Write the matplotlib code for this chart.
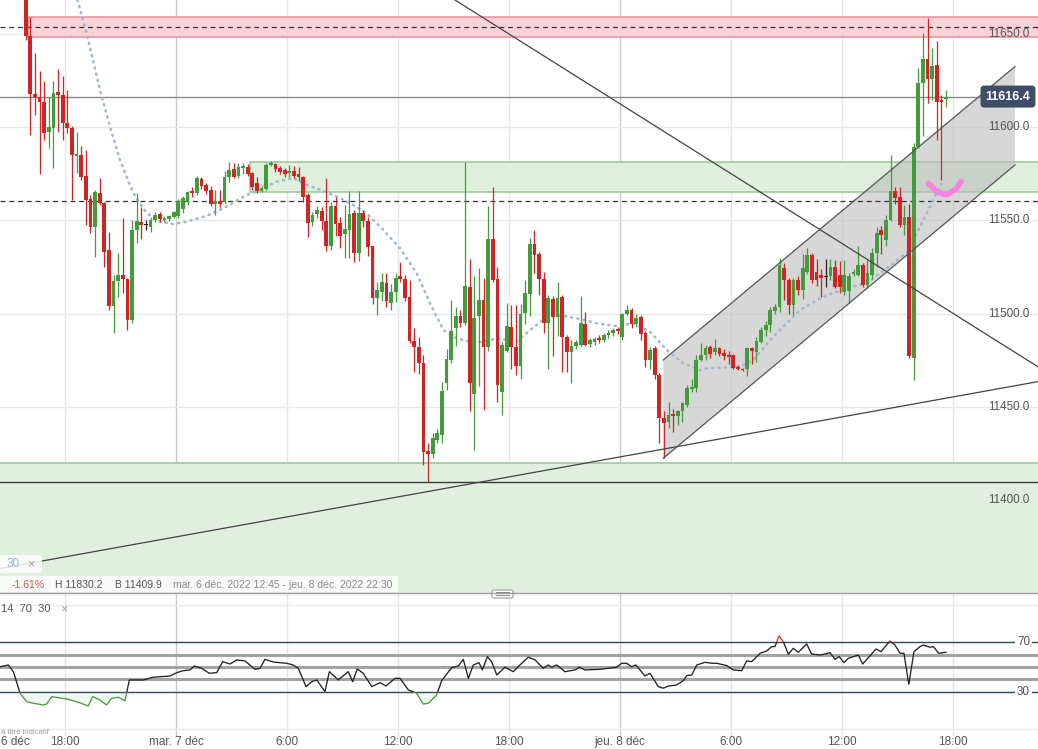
import matplotlib
matplotlib.use("Agg")
import matplotlib.pyplot as plt
import numpy as np
from matplotlib.patches import Rectangle, FancyBboxPatch, Polygon
from matplotlib.transforms import blended_transform_factory

plt.rcParams['font.family'] = ['Liberation Sans', 'DejaVu Sans']

# ---------------- data ----------------
# 15-minute candles, first candle opens 15:45 on 6 Dec (hours relative to 7 Dec 00:00)
first_open_hour = -8.25
candle_hours = 0.25

opens = [11700, 11649, 11618, 11616, 11613.5, 11597.5, 11599.5, 11619, 11617.5, 11602,
         11599.5, 11584.5, 11585, 11574, 11561.5, 11546.5, 11564.5, 11559.5, 11534, 11504,
         11517.5, 11520.5, 11518.5, 11496.5, 11545, 11549, 11547.5, 11546.5, 11550, 11553.5,
         11550, 11550.5, 11552, 11552.5, 11556, 11560, 11565.5, 11564.5, 11572, 11569,
         11566.5, 11559, 11560.5, 11560, 11573.5, 11577.5, 11574, 11578, 11578.5, 11575.5,
         11570, 11566, 11567, 11579.5, 11580, 11578, 11577, 11575.5, 11576.5, 11575,
         11573.5, 11563.5, 11549, 11553.5, 11555, 11549.5, 11536, 11557.5, 11548.5, 11542.5,
         11545, 11554, 11532.5, 11554, 11549.5, 11536, 11508.5, 11511.5, 11516.5, 11505.5,
         11511.5, 11520, 11518.5, 11509, 11485.5, 11482, 11473.5, 11426.5, 11424.5, 11432,
         11435, 11463, 11475, 11492, 11498.5, 11495, 11514.5, 11457, 11498.5, 11507.5,
         11482, 11540, 11518.5, 11458, 11480, 11493, 11482, 11472, 11500.5, 11510.5,
         11537.5, 11532, 11518.5, 11495, 11508, 11498, 11509, 11487.5, 11479.5, 11482.5,
         11483, 11494.5, 11483.5, 11484.5, 11487, 11486, 11488.5, 11489.5, 11491.5, 11487.5,
         11500, 11502, 11494.5, 11498, 11489.5, 11475, 11481.5, 11467, 11444, 11442,
         11446, 11445, 11447.5, 11451, 11459.5, 11460, 11475, 11478, 11482, 11479.5,
         11481.5, 11479, 11478, 11478, 11471.5, 11470.5, 11470, 11481.5, 11479.5, 11485,
         11491, 11494, 11501.5, 11503.5, 11524.5, 11518, 11504.5, 11518, 11512.5, 11522.5,
         11531.5, 11522.5, 11520.5, 11519.5, 11520, 11525, 11520.5, 11511.5, 11512, 11521,
         11520.5, 11526, 11515.5, 11520.5, 11532.5, 11545, 11539.5, 11550, 11565.5, 11562.5,
         11547.5, 11552, 11476, 11589.5, 11623.5, 11636.5, 11626, 11633.5, 11614.5, 11615]
highs = [11710, 11659, 11640, 11630, 11625, 11616, 11625, 11631, 11627.5, 11620,
         11600.5, 11597.5, 11590, 11588, 11563.5, 11566.5, 11572.5, 11560, 11544, 11520.5,
         11532.5, 11551, 11519, 11550, 11564.5, 11557, 11550, 11552, 11554.5, 11554.5,
         11552.5, 11553, 11555, 11561.5, 11563, 11565.5, 11568, 11574, 11573.5, 11570,
         11568.5, 11566.5, 11566.5, 11576.5, 11581.5, 11580.5, 11581, 11580.5, 11580, 11576,
         11573, 11569, 11580.5, 11582, 11581, 11579, 11578, 11579.5, 11579, 11578.5,
         11574, 11564.5, 11554.5, 11557.5, 11557, 11572.5, 11560, 11562.5, 11552, 11558,
         11566, 11555.5, 11565.5, 11555.5, 11552, 11536.5, 11517, 11521.5, 11522, 11516,
         11522, 11527.5, 11520.5, 11518, 11492, 11487.5, 11478, 11430.5, 11436, 11438,
         11463.5, 11481, 11507.5, 11503.5, 11502, 11581.5, 11529.5, 11520, 11524.5, 11519,
         11557.5, 11568, 11525, 11484.5, 11505.5, 11504.5, 11504.5, 11505, 11518, 11540.5,
         11545, 11533, 11522.5, 11510, 11509.5, 11517, 11510, 11488.5, 11486, 11486,
         11509.5, 11501, 11487, 11487.5, 11488.5, 11489.5, 11491, 11492, 11493, 11500.5,
         11504.5, 11503, 11500, 11499, 11490.5, 11482, 11482.5, 11468, 11447.5, 11452.5,
         11449, 11448.5, 11452.5, 11461.5, 11465, 11478, 11484, 11483, 11483, 11486.5,
         11482, 11481, 11480, 11478.5, 11472.5, 11471, 11482, 11482, 11487.5, 11493,
         11496, 11503.5, 11505, 11530, 11527, 11519, 11519, 11520, 11532, 11535,
         11532.5, 11529, 11524, 11529.5, 11529.5, 11528.5, 11528, 11528.5, 11522, 11524,
         11536, 11527, 11528.5, 11535, 11546.5, 11547, 11553, 11585, 11568, 11568,
         11558, 11559, 11591.5, 11631.5, 11650.5, 11658.5, 11642.5, 11646, 11617, 11620]
lows = [11647, 11596, 11606.5, 11575, 11593, 11589, 11578, 11597.5, 11593, 11597,
        11561, 11575.5, 11571.5, 11547.5, 11543, 11530.5, 11558, 11525, 11502, 11489.5,
        11509, 11511, 11491, 11495, 11538, 11540, 11545, 11544, 11549, 11549,
        11549, 11549.5, 11551, 11551.5, 11554, 11558, 11562.5, 11563.5, 11567, 11564,
        11557.5, 11553, 11557, 11559, 11570.5, 11572.5, 11572.5, 11575, 11574, 11566.5,
        11564.5, 11565, 11566.5, 11579, 11576, 11575, 11573.5, 11573.5, 11572.5, 11571,
        11560, 11541, 11547, 11551.5, 11545, 11533.5, 11534, 11541.5, 11535, 11530,
        11530, 11527.5, 11528, 11546.5, 11531, 11505, 11499, 11507, 11503.5, 11502,
        11506, 11517, 11506.5, 11484, 11468.5, 11467.5, 11419, 11409.9, 11422.5, 11430.5,
        11430.5, 11459, 11473.5, 11482.5, 11493, 11494, 11447.5, 11427, 11461, 11448.5,
        11480, 11517, 11452.5, 11445.5, 11479.5, 11470.5, 11467, 11465, 11494.5, 11498.5,
        11521.5, 11510, 11489.5, 11470.5, 11477, 11488, 11468.5, 11468.5, 11462.5, 11481,
        11482.5, 11482.5, 11482, 11483, 11484, 11485, 11487, 11488, 11489, 11486,
        11499, 11492, 11493, 11486, 11471.5, 11470, 11465, 11430.5, 11422.5, 11438.5,
        11436.5, 11440, 11442, 11450, 11458, 11458, 11474.5, 11475, 11476, 11478,
        11477, 11475, 11473, 11470, 11469.5, 11469, 11466.5, 11473, 11474, 11484,
        11488, 11490, 11500, 11501, 11507.5, 11500, 11499, 11510, 11508, 11521,
        11516.5, 11515, 11509, 11514, 11518, 11513.5, 11511, 11510, 11505.5, 11520,
        11520, 11514, 11513.5, 11518.5, 11525, 11532, 11536, 11549.5, 11559, 11546.5,
        11542, 11476, 11464.5, 11589, 11595, 11613, 11614.5, 11593, 11571.5, 11611]
closes = [11649, 11618, 11616, 11613.5, 11597, 11600, 11618.5, 11617, 11602, 11599.5,
          11585, 11585.5, 11573, 11561, 11546.5, 11565, 11559.5, 11533, 11504, 11517.5,
          11520.5, 11518.5, 11496.5, 11545, 11549.5, 11547.5, 11547.5, 11550, 11553, 11550.5,
          11551.5, 11552.5, 11554.5, 11560.5, 11562, 11565, 11564.5, 11572.5, 11568.5, 11566,
          11559, 11560.5, 11559, 11573.5, 11577, 11573.5, 11578.5, 11579, 11575, 11568,
          11565.5, 11567.5, 11579.5, 11580.5, 11577.5, 11576, 11575, 11576.5, 11574, 11573,
          11562.5, 11548.5, 11553, 11555.5, 11549.5, 11536, 11557.5, 11548, 11541.5, 11545.5,
          11553.5, 11532.5, 11554, 11549.5, 11535.5, 11508.5, 11512.5, 11517, 11506.5, 11511.5,
          11519, 11518.5, 11508.5, 11485.5, 11482, 11473.5, 11426, 11424.5, 11433, 11436,
          11458.5, 11475.5, 11490.5, 11498.5, 11495, 11515, 11462.5, 11497.5, 11507.5, 11482,
          11540, 11518, 11461.5, 11483, 11493.5, 11482, 11472, 11500, 11511, 11537.5,
          11531.5, 11518.5, 11495, 11508.5, 11498, 11508.5, 11487.5, 11479.5, 11482.5, 11484.5,
          11495, 11483, 11486, 11486.5, 11486, 11488.5, 11489.5, 11491, 11490.5, 11500,
          11502, 11494.5, 11497.5, 11489, 11475, 11480.5, 11467, 11444, 11441.5, 11445.5,
          11445, 11447.5, 11452, 11460, 11460.5, 11475, 11478, 11481.5, 11478.5, 11481.5,
          11478.5, 11477, 11476.5, 11471, 11470, 11469.5, 11481.5, 11480, 11485.5, 11491,
          11494, 11502, 11503.5, 11526, 11518, 11504.5, 11518, 11512.5, 11524.5, 11531.5,
          11518, 11518, 11519, 11519.5, 11525, 11514.5, 11514.5, 11520.5, 11520, 11522.5,
          11526, 11515.5, 11521.5, 11532.5, 11543, 11542, 11550, 11565.5, 11562, 11547.5,
          11552, 11477, 11589.5, 11623.5, 11636.5, 11626, 11633, 11613.5, 11613.5, 11616.4]

# 30-period moving average (dotted), read at sample points: hours, price
ma_hours = [-5.33, -4.83, -4.11, -3.57, -3.03, -2.31, -1.58, -0.86, -0.15, 0.58, 1.66, 2.74,
            3.82, 4.54, 5.44, 6.34, 7.06, 7.96, 8.69, 9.41, 10.31, 11.21, 12.11, 13.01,
            13.73, 14.45, 15.17, 16.07, 16.61, 17.34, 18.42, 19.14, 19.85, 20.58, 21.66,
            22.74, 23.82, 24.72, 25.62, 26.52, 27.42, 28.32, 28.69, 30.49, 31.2, 32.29,
            33.73, 34.99, 36.25, 37.34, 38.77, 39.5, 40.04, 40.39, 40.76, 41.12, 41.46]
ma_values = [11668.2, 11650.4, 11620.0, 11600.3, 11582.4, 11564.5, 11553.8, 11549.3, 11548.0,
             11549.3, 11552.4, 11557.4, 11563.6, 11566.3, 11570.8, 11572.6, 11569.0, 11565.9,
             11562.7, 11559.2, 11553.8, 11544.8, 11535.0, 11521.6, 11505.5, 11491.2, 11486.7,
             11484.4, 11484.9, 11486.7, 11484.9, 11491.2, 11496.6, 11499.3, 11497.5, 11494.8,
             11493.3, 11494.8, 11490.3, 11480.5, 11473.3, 11469.7, 11470.6, 11471.5, 11475.1,
             11487.6, 11501.9, 11509.1, 11513.6, 11516.3, 11527.0, 11532.4, 11543.1, 11550.2,
             11557.4, 11564.5, 11571.1]

# RSI(14) read at sample points
rsi_hours = [-9.51, -9.06, -8.79, -8.43, -8.07, -7.71, -7.17, -6.99, -6.72, -6.36, -5.91, -5.37,
             -4.74, -4.50, -4.11, -3.75, -3.48, -3.12, -2.76, -2.52, -1.77, -1.23, -0.32, 0.04,
             0.39, 0.76, 0.99, 1.39, 1.80, 2.20, 2.52, 2.92, 3.28, 3.73, 4.27, 4.54, 4.81, 5.26,
             5.98, 6.34, 6.61, 7.03, 7.34, 7.61, 8.05, 8.29, 8.77, 9.31, 9.55, 9.80, 10.12,
             10.58, 11.03, 11.35, 11.84, 12.11, 12.56, 13.01, 13.37, 13.64, 14.09, 14.36, 14.90,
             15.26, 15.53, 15.80, 16.07, 16.38, 16.56, 16.83, 17.06, 17.34, 17.78, 18.23, 18.59,
             19.04, 19.41, 19.85, 20.12, 20.31, 20.58, 21.03, 21.57, 21.80, 22.11, 22.92, 23.82,
             24.09, 24.36, 24.63, 24.86, 25.35, 25.62, 26.07, 26.34, 26.61, 27.06, 27.42, 27.61,
             27.88, 28.15, 28.59, 28.96, 29.23, 29.77, 30.12, 30.58, 30.85, 31.12, 31.57, 31.93,
             32.20, 32.38, 32.59, 32.83, 33.10, 33.37, 33.64, 34.09, 34.36, 34.81, 35.08, 35.35,
             35.62, 35.85, 36.11, 36.34, 36.88, 37.12, 37.51, 37.84, 38.11, 38.59, 38.86, 39.14,
             39.35, 39.61, 39.89, 40.22, 40.40, 40.76, 40.94, 41.23, 41.62]
rsi_values = [50.2, 51.6, 46.2, 28.7, 21.9, 20.6, 19.2, 20.0, 26.0, 25.1, 24.1, 21.9,
              18.4, 26.0, 23.3, 19.2, 24.6, 25.5, 22.7, 39.5, 39.5, 41.7, 42.7, 45.4,
              47.0, 47.6, 50.8, 48.9, 44.9, 45.4, 54.3, 52.4, 55.7, 54.9, 48.1, 48.9, 56.2, 54.0,
              53.0, 51.6, 48.9, 34.1, 38.1, 39.5, 30.0, 46.2, 39.5, 46.2, 38.1, 48.4, 44.9,
              34.1, 37.3, 34.6, 40.8, 40.8, 31.4, 28.7, 20.0, 20.6, 27.3, 38.9, 49.4,
              50.8, 56.2, 40.8, 51.6, 53.5, 47.6, 58.4, 54.3, 43.5, 49.8, 46.2, 51.6,
              57.9, 55.7, 48.9, 51.6, 49.8, 51.6, 46.2, 47.6, 49.8, 47.6, 48.1, 49.8,
              53.0, 53.0, 50.2, 51.6, 42.7, 44.9, 34.1, 32.8, 34.6, 35.4, 38.9, 43.0,
              43.5, 51.6, 53.8, 53.0, 53.0, 51.1, 47.6, 47.0, 54.9, 54.3, 61.1, 63.0,
              66.5, 66.5, 75.1, 70.5, 60.3, 65.1, 61.9, 68.6, 60.5, 59.7, 60.5, 61.6,
              56.2, 58.4, 53.5, 57.0, 59.7, 52.4, 58.9, 64.6, 62.4, 71.1, 67.8, 61.1,
              61.1, 36.0, 62.4, 66.5, 67.8, 66.0, 66.5, 61.1, 61.9]

# drawings: (hours, price) endpoints
line_down = ([15.08, 46.6], [11668.2, 11471.4])
line_up = ([-9.51, 46.6], [11363.2, 11463.5])
channel_hours = [26.34, 45.35]
channel_upper = [11475.1, 11632.5]
channel_lower = [11422.4, 11579.7]
marker_hours = [40.66, 41.12, 41.66, 42.2, 42.43]
marker_prices = [11569.9, 11565.4, 11563.6, 11567.2, 11570.8]

red_zone = (-7.98, 11648.4, 11659.1)
green_zone = (4.0, 11565.4, 11581.5)
low_zone = (-12.0, 11300.0, 11419.8)
dashed_levels = [11653.6, 11560.4]
last_price = 11616.4
low_price = 11409.9

price_ticks = [11650, 11600, 11550, 11500, 11450, 11400]
time_ticks = [-6, 0, 6, 12, 18, 24, 30, 36, 42]
time_labels = ["18:00", "mar. 7 déc", "6:00", "12:00", "18:00", "jeu. 8 déc", "6:00", "12:00", "18:00"]
day_ticks = [0, 24]

# ---------------- figure ----------------
W, H = 1038, 749
fig = plt.figure(figsize=(W / 100, H / 100), dpi=100)
fig.patch.set_facecolor('white')
ax = fig.add_axes([0, 1 - 593 / H, 1, 593 / H])
ax2 = fig.add_axes([0, 1 - 737 / H, 1, (737 - 593) / H])
xlim = (-9.514, 46.595)
for a in (ax, ax2):
    a.set_xlim(*xlim)
    for s in a.spines.values():
        s.set_visible(False)
    a.set_xticks([])
    a.set_yticks([])
    a.set_facecolor('white')
ax.set_ylim(11350.1, 11668.2)
ax2.set_ylim(-6.7, 109.9)

# grids
for t in time_ticks:
    col = '#c9c9c9' if t in day_ticks else '#e6e6e6'
    ax.axvline(t, color=col, lw=1, zorder=0)
    ax2.axvline(t, color=col, lw=1, zorder=0)
for p in price_ticks:
    ax.axhline(p, color='#e8e8e8', lw=1, zorder=0)

# zones
for (t0, lo, hi), fc, ec in [(red_zone, '#fad3d7', '#e78e96'),
                              (green_zone, '#dff0dc', '#95c990'),
                              (low_zone, '#dff0dc', '#95c990')]:
    ax.add_patch(Rectangle((t0, lo), 80, hi - lo, facecolor=fc, edgecolor=ec, lw=1.1, zorder=1))

# channel
poly = Polygon([[channel_hours[0], channel_upper[0]], [channel_hours[1], channel_upper[1]],
                [channel_hours[1], channel_lower[1]], [channel_hours[0], channel_lower[0]]],
               closed=True, facecolor='#bdbdbd', alpha=0.6, edgecolor='none', zorder=2)
ax.add_patch(poly)

# horizontal levels
for p in dashed_levels:
    ax.axhline(p, color='#333333', lw=0.9, ls=(0, (4, 3)), zorder=3)
ax.plot([xlim[0], 44.55], [last_price, last_price], color='#8a8a8a', lw=1, zorder=3)
ax.axhline(low_price, color='#3a3a3a', lw=1, zorder=3)

# moving average
ax.plot(ma_hours, ma_values, color='#a3b8cd', lw=1.9, ls=(0, (0.4, 2.0)),
        dash_capstyle='round', zorder=4)

# candles
op = np.array(opens); hi = np.array(highs); lo = np.array(lows); cl = np.array(closes)
tc = first_open_hour + candle_hours * np.arange(len(op)) + candle_hours / 2
cols = np.where(cl > op, '#449b3c', np.where(cl < op, '#cf2525', '#222222'))
ax.vlines(tc, lo, hi, colors=cols, lw=0.9, zorder=5)
body_lo = np.minimum(op, cl)
body_h = np.maximum(np.abs(cl - op), 0.6)
ax.bar(tc, body_h, bottom=body_lo, width=0.2, color=cols, lw=0, zorder=5)

# trend lines & channel edges
ax.plot(*line_down, color='#444444', lw=0.9, zorder=6)
ax.plot(*line_up, color='#444444', lw=0.9, zorder=6)
ax.plot(channel_hours, channel_upper, color='#555555', lw=0.9, zorder=6)
ax.plot(channel_hours, channel_lower, color='#555555', lw=0.9, zorder=6)

# hand-drawn marker
ax.plot(marker_hours, marker_prices, color='#f583e6', lw=4, solid_capstyle='round',
        solid_joinstyle='round', zorder=7)

# price labels
xr = (1029 / W) * (xlim[1] - xlim[0]) + xlim[0]
for p in price_ticks:
    ax.text(xr, p, f"{p:.1f}", ha='right', va='center', fontsize=8.4, color='#555555', zorder=8)
ax.text((1008 / W) * (xlim[1] - xlim[0]) + xlim[0], last_price, f"{last_price:.1f}",
        ha='center', va='center', fontsize=9, color='white', fontweight='bold', zorder=9,
        bbox=dict(boxstyle='round,pad=0.4,rounding_size=0.3', fc='#3f4e66', ec='none'))

# RSI panel
ax2.axhline(100, color='#ebebeb', lw=1, zorder=0)
ax2.axhline(0, color='#ebebeb', lw=1, zorder=0)
for lvl in (60, 50, 40):
    ax2.axhline(lvl, color='#a3a3a3', lw=2.2, zorder=1)
for lvl in (70, 30):
    ax2.axhline(lvl, color='#2e4a5a', lw=1, zorder=1)
rt = np.array(rsi_hours); rv = np.array(rsi_values)
ax2.fill_between(rt, rv, 30, where=rv < 30, interpolate=True, color='#4caf50', alpha=0.08,
                 lw=0, zorder=2)
ax2.fill_between(rt, rv, 70, where=rv > 70, interpolate=True, color='#e53935', alpha=0.08,
                 lw=0, zorder=2)
for col, y0, y1 in [('#222222', 30, 70), ('#4f9a43', -50, 30), ('#d23a3a', 70, 150)]:
    ln, = ax2.plot(rt, rv, color=col, lw=0.95, zorder=3)
    clip = Rectangle((xlim[0], y0), xlim[1] - xlim[0], y1 - y0, transform=ax2.transData)
    ln.set_clip_path(clip)
for lvl in (70, 30):
    ax2.text(xr + 0.05, lvl, str(lvl), ha='right', va='center', fontsize=8.4, color='#555555',
             zorder=5, bbox=dict(boxstyle='square,pad=0.15', fc='white', ec='none'))

# separator
fig.add_artist(plt.Line2D([0, 1], [1 - 593 / H] * 2, color='#a0a0a0', lw=1))
fig.add_artist(FancyBboxPatch((492 / W, 1 - 598 / H), 21 / W, 8 / H,
                              boxstyle='round,pad=0,rounding_size=0.002',
                              fc='white', ec='#9a9a9a', lw=0.8))
for yy in (592.3, 594.7):
    fig.add_artist(plt.Line2D([496 / W, 509 / W], [1 - yy / H] * 2, color='#8a8a8a', lw=0.7))

# x-axis labels
bt = blended_transform_factory(ax2.transData, fig.transFigure)
for t, lab in zip(time_ticks, time_labels):
    ax2.text(t, 1 - 748 / H, lab, transform=bt, ha='center', va='bottom', fontsize=8.5,
             color='#555555', clip_on=False)
fig.text(1 / W, 1 - 748 / H, "6 déc", ha='left', va='bottom', fontsize=8.5, color='#555555')

# legends / info text
fig.add_artist(FancyBboxPatch((-4 / W, 1 - 573 / H), 46 / W, 18 / H,
                              boxstyle='round,pad=0,rounding_size=0.003',
                              fc='white', ec='none', alpha=0.85))
fig.text(7 / W, 1 - 564 / H, "30", fontsize=8.5, color='#9cb6d0', va='center', ha='left')
fig.text(27 / W, 1 - 564 / H, "×", fontsize=9, color='#9a9a9a', va='center', ha='left')
fig.add_artist(Rectangle((0, 1 - 592 / H), 398 / W, 16 / H, transform=fig.transFigure,
                         fc='white', ec='none', alpha=0.8))
yinfo = 1 - 584.5 / H
fig.text(12 / W, yinfo, "-1.61%", fontsize=7.5, color='#d9534f', va='center')
fig.text(55 / W, yinfo, "H 11830.2", fontsize=7.5, color='#555555', va='center')
fig.text(115 / W, yinfo, "B 11409.9", fontsize=7.5, color='#555555', va='center')
fig.text(173 / W, yinfo, "mar. 6 déc. 2022 12:45 - jeu. 8 déc. 2022 22:30", fontsize=7.5,
         color='#888888', va='center')
fig.text(1 / W, 1 - 609 / H, "14  70  30", fontsize=8, color='#555555', va='center')
fig.text(60 / W, 1 - 609 / H, "×", fontsize=9, color='#a0a0a0', va='center')
fig.text(1 / W, 1 - 732 / H, "à titre indicatif", fontsize=5.5, color='#9a9a9a', va='center')

fig.savefig("out.png", dpi=100, facecolor='white')
